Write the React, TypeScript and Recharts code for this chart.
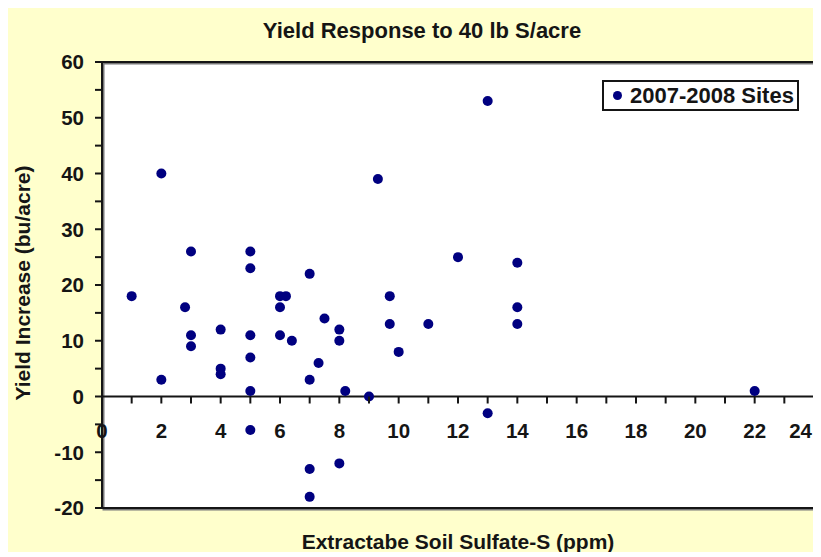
import { ScatterChart, Scatter, XAxis, YAxis, CartesianGrid, ReferenceLine, ReferenceArea } from 'recharts';

// Extractable soil sulfate-S (ppm) and yield increase (bu/acre)
const sulfate = [
  1, 2, 2, 2.8, 3, 3, 3, 4, 4, 4,
  5, 5, 5, 5, 5, 5, 6, 6, 6, 6.2,
  6.4, 7, 7, 7, 7, 7.3, 7.5, 8, 8, 8,
  8.2, 9, 9.3, 9.7, 9.7, 10, 11, 12, 13, 13,
  14, 14, 14, 22,
];
const yieldIncrease = [
  18, 40, 3, 16, 26, 11, 9, 12, 5, 4,
  26, 23, 11, 7, 1, -6, 18, 16, 11, 18,
  10, 22, 3, -13, -18, 6, 14, 12, 10, -12,
  1, 0, 39, 18, 13, 8, 13, 25, 53, -3,
  24, 16, 13, 1,
];

const xTicks = [0, 1, 2, 3, 4, 5, 6, 7, 8, 9, 10, 11, 12, 13, 14, 15, 16, 17, 18, 19, 20, 21, 22, 23, 24];
const yTicks = [-20, -15, -10, -5, 0, 5, 10, 15, 20, 25, 30, 35, 40, 45, 50, 55, 60];

const seriesName = '2007-2008 Sites';

const W = 813;
const H = 545;
const M = { top: 55, right: 7, bottom: 0, left: 0 };
const X_AXIS_H = 44;
const Y_AXIS_W = 94;
const PLOT_H = H - M.top - M.bottom - X_AXIS_H;
const X_MAX = 24;
const Y_MIN = -20;
const Y_MAX = 60;

const FONT = '"Liberation Sans", Arial, sans-serif';
const INK = '#151515';
const DOT = '#000080';

const data = sulfate.map((s, i) => ({ x: s, y: yieldIncrease[i] }));

// x axis crosses at y = 0, so ticks and labels are shifted up from the plot bottom
const XTick = (props: any) => {
  const { x, y, payload } = props;
  const zy = y - (PLOT_H * (0 - Y_MIN)) / (Y_MAX - Y_MIN);
  const last = payload.value === X_MAX;
  return (
    <g>
      <line x1={x} x2={x} y1={zy} y2={zy + 7} stroke={INK} strokeWidth={2} />
      {payload.value % 2 === 0 && (
        <text
          x={last ? x - 2 : x}
          y={zy + 34}
          textAnchor={last ? 'end' : 'middle'}
          dominantBaseline="central"
          fontFamily={FONT}
          fontWeight="bold"
          fontSize={20.5}
          fill={INK}
        >
          {payload.value}
        </text>
      )}
    </g>
  );
};

const Dot = (props: any) => <circle cx={props.cx} cy={props.cy} r={5} fill={DOT} />;

const textStyle = {
  position: 'absolute' as const,
  fontFamily: FONT,
  fontWeight: 'bold' as const,
  fontSize: 21,
  color: INK,
  lineHeight: '24px',
  whiteSpace: 'nowrap' as const,
};

export default function App() {
  return (
    <div style={{ position: 'relative', width: W, height: H, marginTop: -1, background: '#FFFFCC' }}>
      <ScatterChart width={W} height={H} margin={M}>
        <CartesianGrid horizontal={false} vertical={false} fill="#fff" fillOpacity={1} />
        <XAxis
          type="number"
          dataKey="x"
          domain={[0, X_MAX]}
          ticks={xTicks}
          interval={0}
          height={X_AXIS_H}
          axisLine={false}
          tickLine={false}
          tickSize={0}
          tickMargin={0}
          tick={<XTick />}
        />
        <YAxis
          type="number"
          dataKey="y"
          domain={[Y_MIN, Y_MAX]}
          ticks={yTicks}
          interval={0}
          width={Y_AXIS_W}
          axisLine={false}
          tickSize={7}
          tickMargin={11}
          tickLine={{ stroke: INK, strokeWidth: 2 }}
          tickFormatter={(v: number) => (v % 10 === 0 ? String(v) : '')}
          tick={{ fontFamily: FONT, fontWeight: 'bold', fontSize: 20.5, fill: INK }}
        />
        <ReferenceArea x1={0} x2={X_MAX} y1={Y_MIN} y2={Y_MAX} fill="none" stroke="#777" strokeWidth={2} ifOverflow="visible" transform="translate(1.5,1.5)" />
        <ReferenceArea x1={0} x2={X_MAX} y1={Y_MIN} y2={Y_MAX} fill="none" stroke={INK} strokeWidth={2} ifOverflow="visible" />
        <ReferenceLine y={0} stroke={INK} strokeWidth={2} />
        <Scatter name={seriesName} data={data} fill={DOT} shape={<Dot />} isAnimationActive={false} />
      </ScatterChart>

      <div
        style={{
          position: 'absolute',
          left: 594,
          top: 73,
          boxSizing: 'border-box',
          width: 197,
          height: 31,
          border: `2px solid ${INK}`,
          background: '#fff',
          display: 'flex',
          alignItems: 'center',
          paddingLeft: 9,
          fontFamily: FONT,
          fontWeight: 'bold',
          fontSize: 22,
          color: INK,
          whiteSpace: 'nowrap',
        }}
      >
        <span style={{ width: 9, height: 9, borderRadius: '50%', background: DOT, marginRight: 8, display: 'inline-block' }} />
        {seriesName}
      </div>

      <div style={{ ...textStyle, left: 0, width: 828, top: 12, textAlign: 'center', fontSize: 22 }}>
        Yield Response to 40 lb S/acre
      </div>
      <div style={{ ...textStyle, left: 15, top: 276, transform: 'translate(-50%, -50%) rotate(-90deg)' }}>
        Yield Increase (bu/acre)
      </div>
      <div style={{ ...textStyle, left: 94, width: 712, top: 523, textAlign: 'center' }}>
        Extractabe Soil Sulfate-S (ppm)
      </div>
    </div>
  );
}
